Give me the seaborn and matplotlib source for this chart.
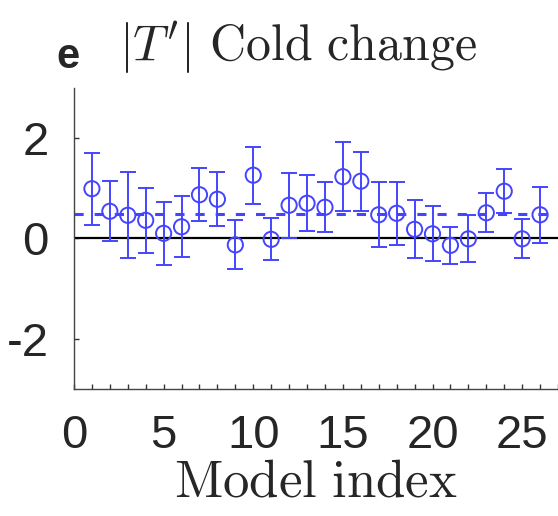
import numpy as np
import pandas as pd
import seaborn as sns
import matplotlib.pyplot as plt

# values
model_idx = list(range(1, 27))
change = [0.99, 0.54, 0.46, 0.36, 0.10, 0.23, 0.87, 0.78, -0.13, 1.26,
          -0.02, 0.66, 0.70, 0.62, 1.23, 1.14, 0.47, 0.50, 0.18, 0.09,
          -0.14, -0.01, 0.51, 0.94, -0.01, 0.47]
err = [0.72, 0.60, 0.86, 0.65, 0.63, 0.61, 0.53, 0.54, 0.49, 0.57,
       0.42, 0.65, 0.56, 0.50, 0.69, 0.59, 0.65, 0.63, 0.58, 0.55,
       0.37, 0.47, 0.39, 0.44, 0.39, 0.56]
mean_change = 0.49

df = pd.DataFrame({'model': model_idx, 'change': change, 'err': err})

sns.set_style('ticks')
plt.rcParams['font.family'] = ['Liberation Sans', 'DejaVu Sans']
plt.rcParams['mathtext.fontset'] = 'cm'

blue = '#4444ff'

fig = plt.figure(figsize=(5.58, 5.16), dpi=100)
ax = fig.add_axes([0.1326, 0.2467, 0.8674, 0.5828])

# reference lines
ax.axhline(0, color='black', lw=1.6, zorder=1)
ax.axhline(mean_change, color=blue, lw=2.2, ls=(0, (3, 3.6)), zorder=1)

# error bars + open circles
ax.errorbar(df['model'], df['change'], yerr=df['err'], fmt='none',
            ecolor=blue, elinewidth=1.4, capsize=5.5, capthick=1.4, zorder=2)
sns.scatterplot(data=df, x='model', y='change', ax=ax, marker='o', s=120,
                facecolors='none', edgecolor=blue, linewidth=1.4, zorder=3)

ax.set_xlim(0, 27)
ax.set_ylim(-3, 3)
ax.set_xticks(np.arange(0, 28, 1))
ax.set_xticklabels([str(v) if v % 5 == 0 else '' for v in range(0, 28)])
ax.set_yticks([-2, 0, 2])
ax.set_yticklabels(['-2', '0', '2'])
ax.tick_params(direction='in', length=3.5, width=1, colors='#333333',
               labelsize=34, labelcolor='#262626')
ax.tick_params(axis='x', pad=18)
ax.tick_params(axis='y', pad=18)
for s in ['top', 'right']:
    ax.spines[s].set_visible(False)
for s in ['left', 'bottom']:
    ax.spines[s].set_color('#444444')
    ax.spines[s].set_linewidth(1)

ax.set_ylabel('')
ax.set_xlabel(r'$\mathrm{Model\ index}$', fontsize=38, labelpad=0)

fig.text(0.534, 0.908, r'$|T^{\prime}|\ \mathrm{Cold\ change}$', fontsize=36,
         ha='center', va='center')
fig.text(0.122, 0.89, 'e', fontsize=30, fontweight='bold', ha='center', va='center')

fig.savefig('out.png', dpi=100)
